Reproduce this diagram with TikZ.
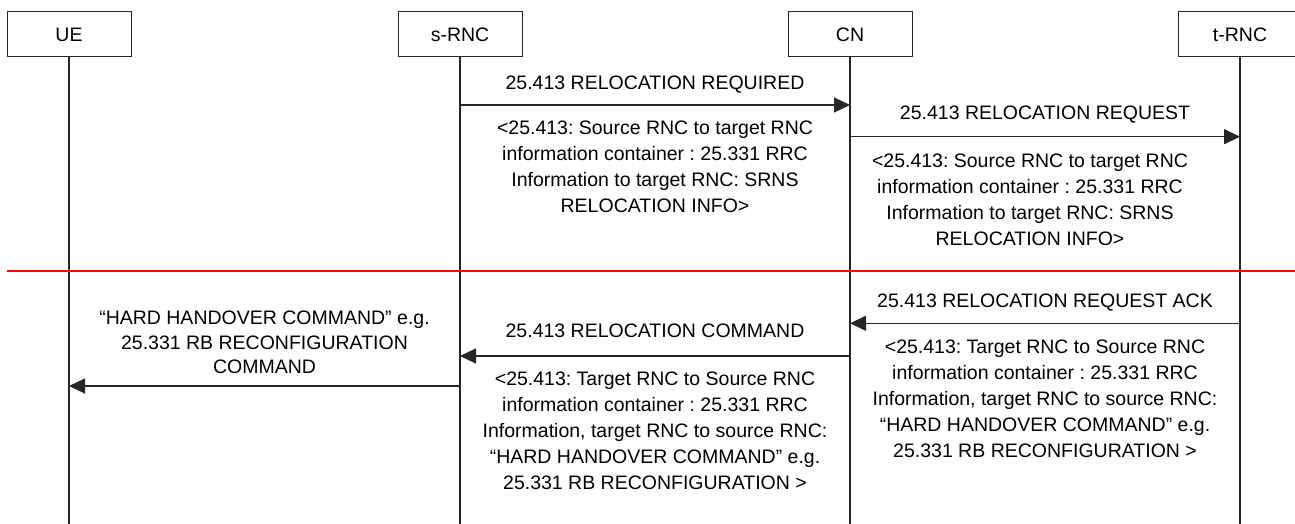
\documentclass[tikz,border=0pt]{standalone}
\usepackage{fontspec}
\setmainfont{Liberation Sans}
\usetikzlibrary{arrows.meta}
\frenchspacing

\tikzset{
  entity/.style={draw=black!85, line width=1pt, fill=white, minimum width=124pt, minimum height=45pt, inner sep=0pt},
  lifeline/.style={draw=black!85, line width=1.1pt},
  msg/.style={draw=black!85, line width=1.1pt, -{Triangle[length=16pt,width=15pt]}},
  msglabel/.style={anchor=base, inner sep=0pt},
  msgbody/.style={anchor=north, inner sep=0pt, align=center},
}

\begin{document}
\begin{tikzpicture}[x=1pt, y=-1pt, font=\fontsize{19.5}{26}\selectfont]
    \useasboundingbox (0,0) rectangle (1295,524);
    \coordinate (bottom) at (0,524);
    % entities and lifelines
    \node[entity] (ue) at (69,34.5) {UE};
    \node[entity] (srnc) at (460,34.5) {s-RNC};
    \node[entity] (cn) at (850,34.5) {CN};
    \node[entity] (trnc) at (1240,34.5) {t-RNC};
    \foreach \e in {ue,srnc,cn,trnc}
        \draw[lifeline] (\e.south) -- (\e.south |- bottom);
    % separator
    \coordinate (split-l) at (7,271);
    \coordinate (split-r) at (1295,271);
    \draw[red, line width=1.7pt] (split-l) -- (split-r);
    % messages
    \coordinate (m1) at (0,105);
    \coordinate (m2) at (0,136.7);
    \coordinate (m3) at (0,323.3);
    \coordinate (m4) at (0,356);
    \coordinate (m5) at (0,386);
    \draw[msg] (srnc |- m1) -- (cn |- m1);
    \draw[msg] (cn |- m2) -- (trnc |- m2);
    \draw[msg] (trnc |- m3) -- (cn |- m3);
    \draw[msg] (cn |- m4) -- (srnc |- m4);
    \draw[msg] (srnc |- m5) -- (ue |- m5);
    % labels
    \node[msglabel] (l1) at (655,89.7) {25.413 RELOCATION REQUIRED};
    \node[msgbody] (b1) at (655,121) {<25.413: Source RNC to target RNC\\information container : 25.331 RRC\\Information to target RNC: SRNS\\RELOCATION INFO>};
    \node[msglabel] (l2) at (1045,119.7) {25.413 RELOCATION REQUEST};
    \node[msgbody] (b2) at (1030,153.6) {<25.413: Source RNC to target RNC\\information container : 25.331 RRC\\Information to target RNC: SRNS\\RELOCATION INFO>};
    \node[msglabel] (l3) at (1045,307) {25.413 RELOCATION REQUEST ACK};
    \node[msgbody] (b3) at (1045,340) {<25.413: Target RNC to Source RNC\\information container : 25.331 RRC\\Information, target RNC to source RNC:\\“HARD HANDOVER COMMAND” e.g.\\25.331 RB RECONFIGURATION >};
    \node[msglabel] (l4) at (655,337.7) {25.413 RELOCATION COMMAND};
    \node[msgbody] (b4) at (655,372) {<25.413: Target RNC to Source RNC\\information container : 25.331 RRC\\Information, target RNC to source RNC:\\“HARD HANDOVER COMMAND” e.g.\\25.331 RB RECONFIGURATION >};
    \node[msgbody, font=\fontsize{19.5}{24.5}\selectfont] (b5) at (264.5,311) {“HARD HANDOVER COMMAND” e.g.\\25.331 RB RECONFIGURATION\\COMMAND};
\end{tikzpicture}
\end{document}
